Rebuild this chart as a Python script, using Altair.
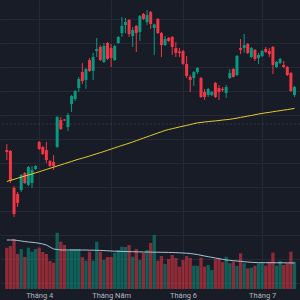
import altair as alt
import pandas as pd

# ---- data ----
month_idx = [9, 29, 49, 71]
month_names = ["Tháng 4", "Tháng Năm", "Tháng 6", "Tháng 7"]

opens = [29.08, 29.0, 25.92, 25.42, 25.75, 27.17, 26.17, 26.33, 27.5, 29.75,
         29.33, 29.08, 28.17, 28.08, 29.33, 31.58, 31.62, 31.0, 32.92, 33.33,
         34.25, 35.58, 34.92, 36.58, 35.67, 37.33, 37.67, 36.42, 38.0, 37.58,
         36.58, 38.0, 38.83, 39.5, 39.92, 38.58, 39.42, 38.92, 40.42, 39.75,
         40.58, 39.25, 40.0, 38.83, 37.83, 38.42, 38.5, 37.58, 37.29, 37.33,
         36.25, 35.17, 35.08, 35.58, 35.08, 33.92, 33.67, 33.67, 34.67, 34.25,
         34.17, 33.83, 35.08, 35.83, 35.33, 37.58, 37.58, 37.92, 36.83, 37.42,
         36.75, 36.92, 37.5, 37.33, 37.67, 36.0, 36.33, 36.17, 36.0, 35.5, 33.67]
highs = [29.58, 29.08, 26.08, 25.58, 27.08, 27.25, 27.75, 27.75, 27.83, 29.83,
         29.42, 29.75, 28.25, 28.67, 31.92, 31.83, 31.67, 32.17, 33.67, 34.08,
         35.17, 36.33, 35.92, 36.75, 37.17, 38.42, 37.83, 38.0, 38.08, 37.92,
         37.83, 38.58, 40.17, 40.08, 40.0, 39.33, 39.5, 40.33, 40.5, 40.75,
         40.67, 39.6, 40.08, 38.92, 38.58, 38.5, 38.58, 38.08, 37.58, 37.42,
         36.92, 35.33, 35.67, 36.0, 35.17, 34.17, 34.25, 34.0, 34.75, 34.5,
         34.33, 34.5, 35.83, 35.92, 37.0, 38.33, 38.75, 38.0, 37.67, 37.5,
         37.17, 37.42, 37.67, 37.58, 37.75, 36.5, 36.75, 36.5, 36.08, 35.58, 34.42]
lows = [28.25, 26.33, 23.5, 24.33, 25.58, 26.25, 26.08, 25.92, 27.42, 29.08,
        28.67, 28.0, 27.67, 27.42, 29.25, 30.75, 31.5, 30.67, 32.25, 33.17,
        33.92, 34.58, 34.17, 35.58, 34.92, 36.83, 36.5, 36.33, 36.58, 36.0,
        36.5, 37.92, 38.5, 38.83, 38.5, 37.67, 37.25, 38.17, 39.92, 39.5,
        39.17, 37.0, 38.75, 36.83, 37.75, 38.08, 37.0, 36.83, 36.83, 36.17,
        35.08, 33.92, 34.42, 35.42, 33.42, 33.25, 33.5, 33.58, 33.42, 33.25,
        33.92, 33.42, 35.0, 35.12, 35.25, 37.08, 37.17, 37.08, 36.75, 36.5,
        36.25, 36.83, 37.17, 36.83, 35.42, 35.92, 36.25, 35.92, 35.25, 33.92, 33.5]
closes = [28.92, 26.5, 23.75, 24.67, 27.0, 26.33, 27.67, 27.42, 27.75, 29.17,
          28.75, 28.25, 27.75, 27.75, 31.83, 30.83, 31.54, 32.0, 33.58, 34.0,
          35.0, 34.83, 35.83, 35.67, 36.83, 37.5, 36.58, 37.75, 36.67, 36.75,
          37.75, 38.5, 39.42, 39.75, 38.75, 39.08, 38.83, 40.25, 40.0, 40.33,
          39.58, 39.54, 38.83, 37.83, 38.33, 38.17, 37.67, 37.17, 37.17, 36.25,
          35.25, 34.92, 35.58, 35.92, 33.5, 33.5, 34.17, 33.92, 33.5, 33.92,
          34.08, 34.33, 35.5, 35.17, 36.92, 37.42, 37.83, 37.17, 37.58, 36.67,
          37.0, 37.33, 37.25, 37.08, 36.17, 36.42, 36.67, 36.0, 35.33, 34.0, 34.33]
volumes = [4.13, 4.3, 5.0, 3.5, 4.0, 3.2, 4.13, 3.73, 4.0, 4.13,
           3.7, 3.5, 2.8, 2.63, 5.63, 4.73, 4.4, 3.8, 4.0, 4.0,
           4.0, 3.2, 2.83, 3.73, 2.83, 4.73, 3.73, 2.9, 3.2, 3.2,
           3.6, 3.9, 4.23, 4.2, 4.4, 3.23, 4.0, 2.9, 3.6, 3.9,
           4.6, 5.4, 2.83, 3.3, 2.5, 3.0, 3.4, 3.1, 2.23, 2.9,
           3.3, 3.1, 2.33, 2.33, 3.13, 2.23, 2.4, 1.9, 2.97, 3.07,
           2.7, 3.23, 2.57, 2.73, 2.3, 3.57, 2.57, 2.07, 2.13, 2.33,
           2.57, 2.57, 2.33, 2.73, 3.63, 2.33, 2.8, 2.4, 2.57, 3.73, 2.73]
vol_ma = [4.9, 4.9, 4.9, 4.85, 4.8, 4.75, 4.7, 4.67, 4.63, 4.57,
          4.5, 4.4, 4.2, 4.0, 3.95, 3.9, 3.9, 3.9, 3.9, 3.9,
          3.9, 3.9, 3.9, 3.88, 3.88, 3.87, 3.86, 3.84, 3.82, 3.8,
          3.78, 3.77, 3.76, 3.75, 3.74, 3.73, 3.72, 3.71, 3.7, 3.7,
          3.69, 3.68, 3.68, 3.67, 3.67, 3.66, 3.65, 3.64, 3.62, 3.6,
          3.58, 3.55, 3.5, 3.45, 3.37, 3.3, 3.23, 3.17, 3.1, 3.03,
          2.97, 2.9, 2.87, 2.83, 2.8, 2.77, 2.73, 2.7, 2.67, 2.65,
          2.63, 2.63, 2.63, 2.63, 2.63, 2.62, 2.62, 2.62, 2.61, 2.61, 2.6]
price_ma = [26.46, 26.55, 26.64, 26.73, 26.82, 26.91, 27.0, 27.08, 27.18, 27.27,
            27.37, 27.46, 27.56, 27.65, 27.75, 27.84, 27.94, 28.03, 28.13, 28.23,
            28.32, 28.4, 28.49, 28.58, 28.68, 28.77, 28.86, 28.96, 29.06, 29.16,
            29.26, 29.36, 29.46, 29.55, 29.65, 29.75, 29.86, 29.97, 30.08, 30.18,
            30.29, 30.39, 30.5, 30.6, 30.71, 30.79, 30.86, 30.93, 31.0, 31.07,
            31.13, 31.2, 31.28, 31.34, 31.38, 31.42, 31.45, 31.48, 31.51, 31.54,
            31.58, 31.61, 31.64, 31.69, 31.74, 31.8, 31.85, 31.91, 31.96, 32.02,
            32.08, 32.13, 32.18, 32.22, 32.27, 32.32, 32.36, 32.41, 32.45, 32.5, 32.55]
ref_price = [31.25]
grid_prices = [18, 20, 22, 24, 26, 28, 30, 32, 34, 36, 38, 40]

# ---- styles ----
BG = "#181c27"
GRID = "#252935"
GREEN = "#089981"
RED = "#f23645"
YELLOW = "#e6cd2a"
VMA = "#a9c3d8"

n = len(opens)
df = pd.DataFrame({
    "i": list(range(n)), "open": opens, "high": highs, "low": lows,
    "close": closes, "vol": volumes, "vma": vol_ma, "ma": price_ma,
})
df["dir"] = ["up" if c >= o else "down" for o, c in zip(opens, closes)]
ref_df = pd.DataFrame({"p": ref_price})

label_expr = " : ".join(
    f"datum.value == {k} ? '{name}'" for k, name in zip(month_idx, month_names)
) + " : ''"

x_scale = alt.Scale(domain=[-0.51, 80.14], nice=False, zero=False)
x_axis = alt.Axis(values=month_idx, labelExpr=label_expr, grid=True,
                  gridColor=GRID, gridWidth=1, ticks=False, domain=False,
                  labelFontSize=7.5, labelColor="#b2b5be", labelFont="Roboto",
                  labelPadding=2, labelFlush=False, title=None)
X = alt.X("i:Q", scale=x_scale, axis=x_axis)

p_scale = alt.Scale(domain=[17.5, 41.583], nice=False, zero=False)
p_axis = alt.Axis(values=grid_prices, grid=True, gridColor=GRID, gridWidth=1,
                  labels=False, ticks=False, domain=False, title=None)
v_scale = alt.Scale(domain=[0, 28.9], nice=False, zero=True)

color = alt.Color("dir:N", scale=alt.Scale(domain=["up", "down"], range=[GREEN, RED]),
                  legend=None)

base = alt.Chart(df)

vbars = base.mark_bar(size=3.3, opacity=0.55).encode(
    x=X, y=alt.Y("vol:Q", scale=v_scale, axis=None), color=color)
vline = base.mark_line(color=VMA, strokeWidth=1).encode(
    x=X, y=alt.Y("vma:Q", scale=v_scale, axis=None))
volume = alt.layer(vbars, vline)

dash = alt.Chart(ref_df).mark_rule(color="#343846", strokeDash=[2, 2], strokeWidth=1).encode(
    y=alt.Y("p:Q", scale=p_scale, axis=p_axis))
wicks = base.mark_rule(strokeWidth=1).encode(
    x=X, y=alt.Y("low:Q", scale=p_scale, axis=p_axis), y2="high:Q", color=color)
bodies = base.mark_bar(size=3).encode(
    x=X, y=alt.Y("open:Q", scale=p_scale, axis=p_axis), y2="close:Q", color=color)
ma_line = base.mark_line(color=YELLOW, strokeWidth=1).encode(
    x=X, y=alt.Y("ma:Q", scale=p_scale, axis=p_axis))
price = alt.layer(dash, wicks, bodies, ma_line)

chart = alt.layer(volume, price).resolve_scale(y="independent").properties(
    width=300, height=289,
    autosize=alt.AutoSizeParams(type="none"),
    padding={"left": 0, "top": 0, "right": 0, "bottom": 11},
    background=BG,
).configure_view(stroke=None)

chart.save("out.html", embed_options={"renderer": "svg", "actions": False})
